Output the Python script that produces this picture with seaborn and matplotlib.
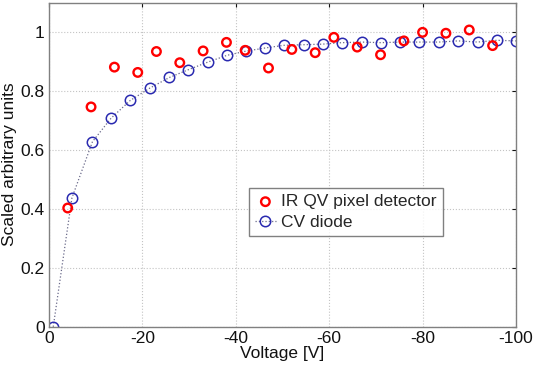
import matplotlib
matplotlib.use("Agg")
import matplotlib.pyplot as plt
import seaborn as sns

# IR QV pixel detector (red circles)
ir_voltage = [-4, -9, -14, -19, -23, -28, -33, -38, -42, -47,
              -52, -57, -61, -66, -71, -76, -80, -85, -90, -95]
ir_signal = [0.403, 0.746, 0.881, 0.863, 0.934, 0.896, 0.936, 0.965, 0.938, 0.878,
             0.941, 0.930, 0.982, 0.949, 0.923, 0.970, 0.999, 0.996, 1.007, 0.954]

# CV diode (blue circles, dotted line)
cv_voltage = [-0.9, -4.9, -9.3, -13.3, -17.4, -21.6, -25.8, -29.8, -34.0, -38.1,
              -42.1, -46.3, -50.3, -54.5, -58.6, -62.7, -67.0, -71.0, -75.2, -79.3,
              -83.5, -87.6, -91.8, -95.9, -100.0]
cv_signal = [0.0, 0.437, 0.628, 0.708, 0.768, 0.810, 0.846, 0.872, 0.898, 0.921,
             0.935, 0.946, 0.955, 0.957, 0.959, 0.964, 0.966, 0.964, 0.966, 0.966,
             0.966, 0.970, 0.966, 0.972, 0.970]

x_ticks = [0, -20, -40, -60, -80, -100]
y_ticks = [0, 0.2, 0.4, 0.6, 0.8, 1.0]
y_ticklabels = ["0", "0.2", "0.4", "0.6", "0.8", "1"]

sns.set_style("white")
plt.rcParams['font.family'] = ['Liberation Sans', 'DejaVu Sans']

fig = plt.figure(figsize=(5.33, 3.68), dpi=100)
ax = fig.add_axes([0.092, 0.112, 0.876, 0.881])

sns.scatterplot(x=ir_voltage, y=ir_signal, ax=ax, marker="o", s=38,
                facecolor="none", edgecolor="#ff0000", linewidth=1.7,
                label="IR QV pixel detector", zorder=3)
sns.lineplot(x=cv_voltage, y=cv_signal, ax=ax, sort=False, color="#6a6a8a",
             linestyle=":", linewidth=0.9, marker="o", markersize=7.5,
             markerfacecolor="none", markeredgecolor="#2a2ab0",
             markeredgewidth=1.1, label="CV diode", zorder=2)

ax.set_xlim(0, -100)
ax.set_ylim(0, 1.1)
ax.set_xticks(x_ticks)
ax.set_xticklabels([str(t) for t in x_ticks])
ax.set_yticks(y_ticks)
ax.set_yticklabels(y_ticklabels)
ax.grid(True, linestyle=":", color="#c4c4c4", linewidth=0.8)
ax.tick_params(direction="in", length=3, labelsize=12.5, colors="#111111",
               top=True, right=True, pad=3)
for sp in ax.spines.values():
    sp.set_color("#808080")
    sp.set_linewidth(1.0)

ax.set_xlabel("Voltage [V]", fontsize=12.5, labelpad=0, color="#111111")
ax.set_ylabel("Scaled arbitrary units", fontsize=12.5, labelpad=3, color="#111111")

leg = ax.legend(loc="upper left", bbox_to_anchor=(0.428, 0.428), fontsize=12.5,
                frameon=True, fancybox=False, borderpad=0.35, handlelength=1.2,
                handletextpad=0.3, labelspacing=0.3, borderaxespad=0)
leg.get_frame().set_edgecolor("#606060")
leg.get_frame().set_linewidth(1.0)

fig.savefig("out.png", dpi=100)
